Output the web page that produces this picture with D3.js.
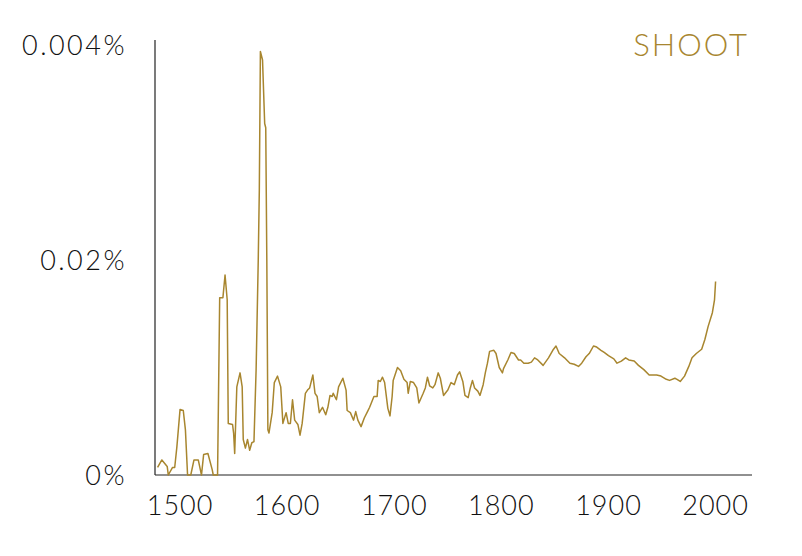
<!DOCTYPE html>
<html>
<head>
<meta charset="utf-8">
<script src="https://cdn.jsdelivr.net/npm/d3@7"></script>
<style>
  body { margin: 0; background: #fff; }
  text { font-family: Lato, "Open Sans", sans-serif; font-weight: 300; }
</style>
</head>
<body>
<div id="container"></div>
<script>
// values: year and share (in %)
const years = [1479,1483,1488,1489,1493,1495,1497,1500,1503,1505,1507,1510,1513,1517,1520,1522,1526,1530,1531,1535,
  1537,1540,1542,1544,1545,1549,1550,1551,1553,1556,1558,1559,1561,1563,1565,1567,1569,1571,1573,1574,
  1575,1577,1579,1580,1581,1582,1583,1586,1588,1591,1594,1596,1599,1601,1603,1605,1607,1610,1612,1614,
  1617,1619,1621,1624,1626,1628,1630,1633,1636,1638,1640,1642,1643,1646,1648,1652,1655,1656,1659,1662,
  1664,1666,1669,1672,1675,1677,1681,1684,1685,1687,1689,1691,1694,1696,1698,1699,1703,1706,1709,1712,
  1713,1715,1718,1721,1723,1727,1729,1731,1733,1736,1738,1741,1743,1746,1750,1753,1756,1759,1761,1764,
  1766,1769,1771,1773,1775,1778,1780,1783,1785,1787,1789,1793,1795,1798,1801,1802,1806,1809,1812,1816,
  1818,1821,1825,1828,1831,1834,1839,1844,1848,1851,1854,1859,1861,1864,1868,1872,1875,1879,1882,1886,
  1889,1893,1896,1900,1905,1908,1912,1916,1919,1924,1928,1933,1938,1945,1949,1954,1957,1962,1964,1967,
  1971,1975,1978,1982,1987,1990,1993,1997,1999,2000];

const shares = [0.0007,0.0014,0.0008,0.0000,0.0007,0.0007,0.0026,0.0061,0.0060,0.0042,0.0000,0.0000,0.0014,0.0014,0.0000,0.0019,0.0020,0.0005,0.0000,0.0000,
  0.0165,0.0165,0.0186,0.0163,0.0048,0.0047,0.0039,0.0020,0.0082,0.0095,0.0082,0.0033,0.0025,0.0033,0.0023,0.0030,0.0031,0.0098,0.0200,0.0265,
  0.0394,0.0386,0.0327,0.0323,0.0200,0.0042,0.0039,0.0058,0.0086,0.0092,0.0082,0.0048,0.0058,0.0048,0.0048,0.0070,0.0051,0.0047,0.0037,0.0048,
  0.0076,0.0079,0.0081,0.0093,0.0076,0.0073,0.0058,0.0063,0.0056,0.0063,0.0074,0.0073,0.0076,0.0070,0.0082,0.0090,0.0079,0.0060,0.0058,0.0051,
  0.0059,0.0051,0.0045,0.0053,0.0059,0.0063,0.0073,0.0073,0.0088,0.0087,0.0091,0.0086,0.0062,0.0055,0.0073,0.0088,0.0100,0.0097,0.0089,0.0086,
  0.0076,0.0087,0.0086,0.0081,0.0067,0.0076,0.0081,0.0091,0.0083,0.0081,0.0084,0.0095,0.0090,0.0074,0.0079,0.0086,0.0084,0.0093,0.0096,0.0087,
  0.0074,0.0072,0.0081,0.0088,0.0081,0.0078,0.0074,0.0084,0.0095,0.0104,0.0115,0.0116,0.0113,0.0100,0.0095,0.0099,0.0107,0.0114,0.0113,0.0107,
  0.0107,0.0104,0.0104,0.0105,0.0109,0.0107,0.0102,0.0109,0.0116,0.0120,0.0113,0.0109,0.0107,0.0104,0.0103,0.0101,0.0104,0.0110,0.0113,0.0120,
  0.0119,0.0116,0.0114,0.0111,0.0108,0.0104,0.0106,0.0109,0.0107,0.0106,0.0102,0.0098,0.0093,0.0093,0.0092,0.0089,0.0088,0.0090,0.0089,0.0087,
  0.0092,0.0101,0.0109,0.0113,0.0117,0.0126,0.0138,0.0151,0.0163,0.0180];

const xTicks = [1500, 1600, 1700, 1800, 1900, 2000];
const yTicks = [0, 0.02, 0.04];
const yTickLabels = ["0%", "0.02%", "0.004%"];
const title = "SHOOT";

const widthSVG = 802,
    heightSVG = 556,
    margin = {top: 40, right: 50, bottom: 81, left: 155};

const gold = "#a8862f";

var svg = d3.select('#container')
  .append('svg')
  .attr('width', widthSVG)
  .attr('height', heightSVG);

// x: 1500 sits at 180px, 2000 at 714px
const x = d3.scaleLinear()
  .domain([1476.6, 2034])
  .range([margin.left, widthSVG - margin.right]);

// y: 0 at 475px, 0.02 at 260px
const y = d3.scaleLinear()
  .domain([0, 0.02])
  .range([475, 260]);

// axis lines
svg.append('line')
  .attr('x1', margin.left).attr('x2', margin.left)
  .attr('y1', margin.top).attr('y2', y(0))
  .attr('stroke', '#222').attr('stroke-width', 1.2);

svg.append('line')
  .attr('x1', margin.left).attr('x2', x.range()[1])
  .attr('y1', y(0)).attr('y2', y(0))
  .attr('stroke', '#222').attr('stroke-width', 1.2);

// tick labels, no tick marks
svg.selectAll('.xlab')
  .data(xTicks)
  .enter()
  .append('text')
  .attr('class', 'xlab')
  .attr('x', d => x(d))
  .attr('y', 515)
  .attr('text-anchor', 'middle')
  .style('font-size', '27px')
  .style('letter-spacing', '1px')
  .attr('fill', '#111')
  .text(d => d);

svg.selectAll('.ylab')
  .data(yTicks)
  .enter()
  .append('text')
  .attr('class', 'ylab')
  .attr('x', 127)
  .attr('y', d => Math.max(y(d), 43))
  .attr('dy', '0.36em')
  .attr('text-anchor', 'end')
  .style('font-size', '27px')
  .style('letter-spacing', '2.5px')
  .attr('fill', '#111')
  .text((d, i) => yTickLabels[i]);

// the series
const line = d3.line()
  .x((d, i) => x(years[i]))
  .y(d => y(d));

svg.append('path')
  .datum(shares)
  .attr('d', line)
  .attr('fill', 'none')
  .attr('stroke', gold)
  .attr('stroke-width', 1.5)
  .attr('stroke-linejoin', 'round');

svg.append('text')
  .attr('x', 749)
  .attr('y', 56)
  .attr('text-anchor', 'end')
  .style('font-size', '31px')
  .style('letter-spacing', '2px')
  .attr('fill', gold)
  .text(title);
</script>
</body>
</html>
